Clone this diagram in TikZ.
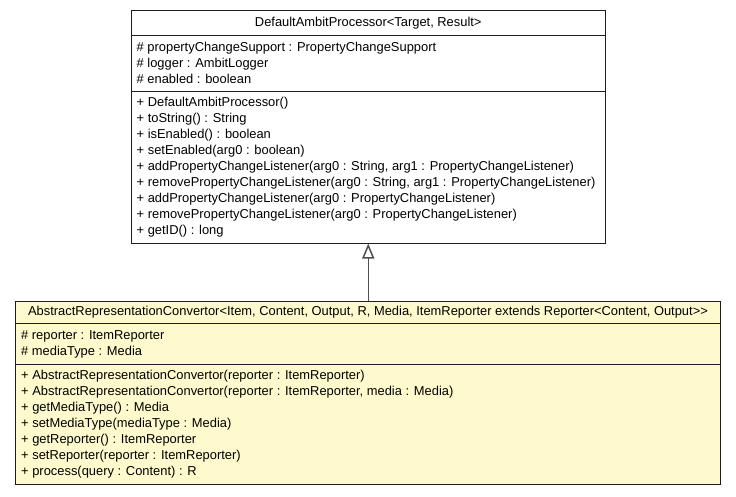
\documentclass[tikz,border=0pt]{standalone}
\usepackage{fontspec}
\setmainfont{Liberation Sans}
\usepackage{xcolor}
\usetikzlibrary{positioning,arrows.meta}
\definecolor{ClassYellow}{RGB}{255,250,205}
\definecolor{LineGray}{RGB}{80,80,80}
\definecolor{BorderGray}{RGB}{30,30,30}
\tikzset{
    compartment/.style={rectangle, draw=BorderGray, line width=1pt, inner sep=0pt, anchor=north west},
    members/.style={align=left, anchor=west, inner sep=0pt, font=\fontsize{12.9}{16}\selectfont},
    classname/.style={inner sep=0pt, font=\fontsize{12.9}{16}\selectfont},
    generalization/.style={draw=LineGray, line width=1.5pt, -{Triangle[open, length=15pt, width=12pt, fill=white]}}
}
\begin{document}
\begin{tikzpicture}[x=1pt, y=-1pt]
    \useasboundingbox (0,0) rectangle (736,496);

    % superclass
    \node[compartment, fill=white, minimum width=474.5pt, minimum height=24.5pt] (superTitle) at (130.5,10) {};
    \node[compartment, fill=white, minimum width=474.5pt, minimum height=56.5pt] (superAttr) at (130.5,34.5) {};
    \node[compartment, fill=white, minimum width=474.5pt, minimum height=151.5pt] (superOps) at (130.5,91) {};
    \node[classname] (superName) at (superTitle.center) {DefaultAmbitProcessor<Target, Result>};
    \node[members, right=6pt of superAttr.west] (superFields) {%
        \# propertyChangeSupport : PropertyChangeSupport\\
        \# logger : AmbitLogger\\
        \# enabled : boolean};
    \node[members, right=6pt of superOps.west] (superMethods) {%
        + DefaultAmbitProcessor()\\
        + toString() : String\\
        + isEnabled() : boolean\\
        + setEnabled(arg0 : boolean)\\
        + addPropertyChangeListener(arg0 : String, arg1 : PropertyChangeListener)\\
        + removePropertyChangeListener(arg0 : String, arg1 : PropertyChangeListener)\\
        + addPropertyChangeListener(arg0 : PropertyChangeListener)\\
        + removePropertyChangeListener(arg0 : PropertyChangeListener)\\
        + getID() : long};

    % subclass
    \node[compartment, fill=ClassYellow, minimum width=705pt, minimum height=22pt] (subTitle) at (15,301) {};
    \node[compartment, fill=ClassYellow, minimum width=705pt, minimum height=41pt] (subAttr) at (15,323) {};
    \node[compartment, fill=ClassYellow, minimum width=705pt, minimum height=120pt] (subOps) at (15,364) {};
    \node[classname] (subName) at (subTitle.center) {AbstractRepresentationConvertor<Item, Content, Output, R, Media, ItemReporter extends Reporter<Content, Output>{}>};
    \node[members, right=6pt of subAttr.west] (subFields) {%
        \# reporter : ItemReporter\\
        \# mediaType : Media};
    \node[members, right=6pt of subOps.west] (subMethods) {%
        + AbstractRepresentationConvertor(reporter : ItemReporter)\\
        + AbstractRepresentationConvertor(reporter : ItemReporter, media : Media)\\
        + getMediaType() : Media\\
        + setMediaType(mediaType : Media)\\
        + getReporter() : ItemReporter\\
        + setReporter(reporter : ItemReporter)\\
        + process(query : Content) : R};

    \draw[generalization] (superOps.south |- subTitle.north) -- (superOps.south);
\end{tikzpicture}
\end{document}
